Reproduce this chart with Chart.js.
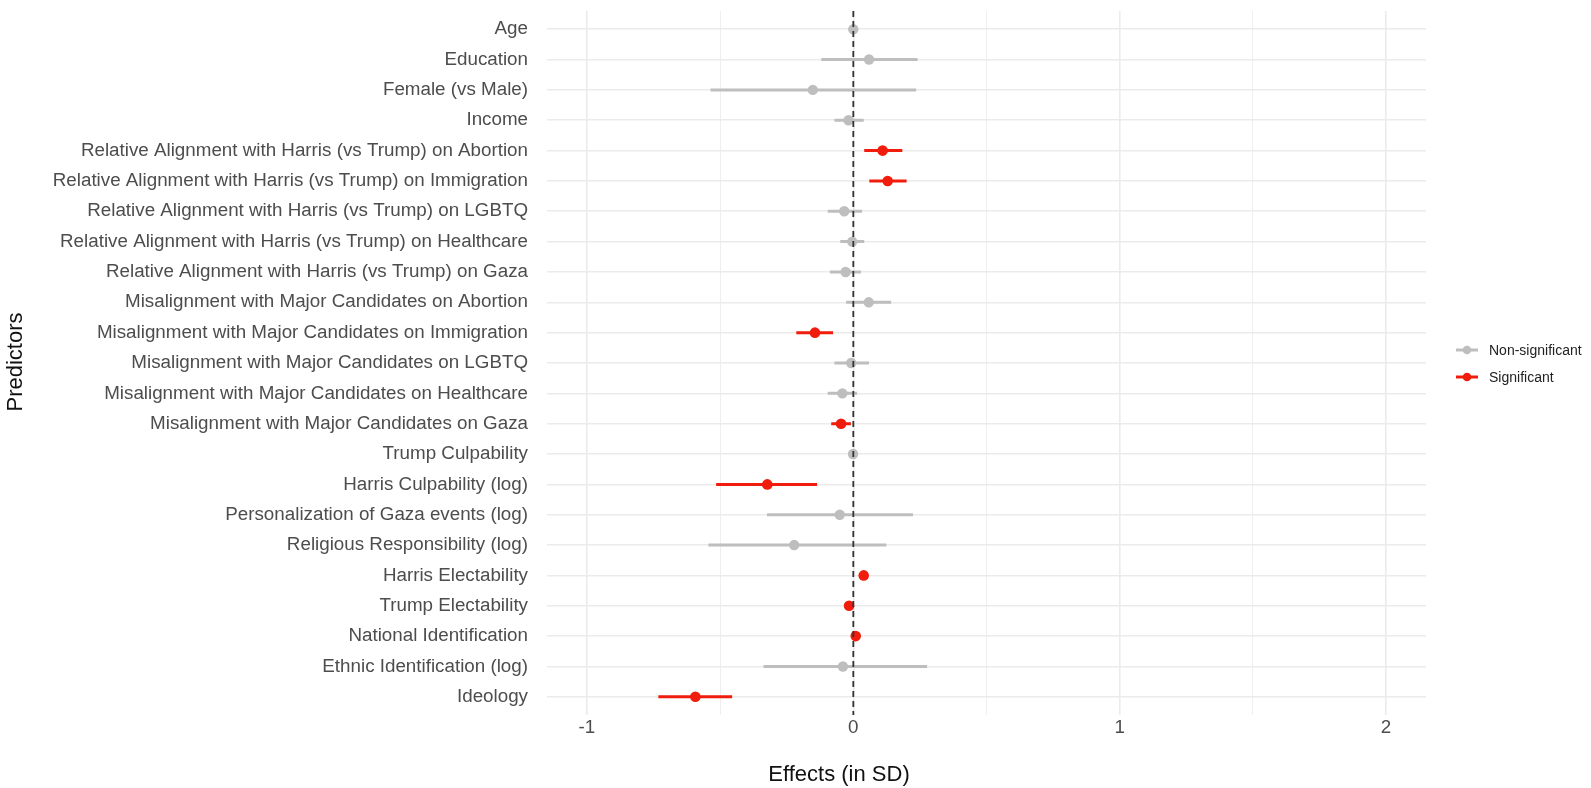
<!DOCTYPE html>
<html>
<head>
<meta charset="utf-8">
<script src="https://cdn.jsdelivr.net/npm/chart.js@4"></script>
<style>
  body { margin: 0; background: #fff; }
  #wrap { width: 1591px; height: 788px; position: relative; }
</style>
</head>
<body>
<div id="wrap"><canvas id="effectsChart"></canvas></div>
<script>
// Predictors, top to bottom
const predictors = [
  "Age",
  "Education",
  "Female (vs Male)",
  "Income",
  "Relative Alignment with Harris (vs Trump) on Abortion",
  "Relative Alignment with Harris (vs Trump) on Immigration",
  "Relative Alignment with Harris (vs Trump) on LGBTQ",
  "Relative Alignment with Harris (vs Trump) on Healthcare",
  "Relative Alignment with Harris (vs Trump) on Gaza",
  "Misalignment with Major Candidates on Abortion",
  "Misalignment with Major Candidates on Immigration",
  "Misalignment with Major Candidates on LGBTQ",
  "Misalignment with Major Candidates on Healthcare",
  "Misalignment with Major Candidates on Gaza",
  "Trump Culpability",
  "Harris Culpability (log)",
  "Personalization of Gaza events (log)",
  "Religious Responsibility (log)",
  "Harris Electability",
  "Trump Electability",
  "National Identification",
  "Ethnic Identification (log)",
  "Ideology"
];

// Effects (in SD) with confidence limits
const estimates = [0.000, 0.059, -0.152, -0.018, 0.110, 0.129, -0.034, -0.004, -0.029, 0.058, -0.144, -0.008, -0.041, -0.046, -0.001, -0.323, -0.051, -0.222, 0.039, -0.016, 0.009, -0.039, -0.593];
const lower = [-0.010, -0.120, -0.536, -0.071, 0.041, 0.060, -0.096, -0.049, -0.088, -0.027, -0.214, -0.071, -0.096, -0.083, -0.010, -0.515, -0.324, -0.544, 0.031, -0.024, 0.001, -0.337, -0.732];
const upper = [0.010, 0.241, 0.236, 0.039, 0.184, 0.200, 0.033, 0.041, 0.029, 0.142, -0.076, 0.059, 0.014, -0.009, 0.008, -0.136, 0.224, 0.124, 0.047, -0.008, 0.017, 0.277, -0.455];
const significant = [false, false, false, false, true, true, false, false, false, false, true, false, false, true, false, true, false, false, true, true, true, false, true];

// x axis ticks (major labelled, minor unlabelled)
const xTicks = [-1, -0.5, 0, 0.5, 1, 1.5, 2];
const xMin = -1.15, xMax = 2.15;
const refLine = 0;

const greyCol = "#bebebe";
const redCol = "#f01c0c";
const textFont = '"Liberation Sans", Arial, Helvetica, sans-serif';

function pointsFor(sig) {
  return estimates.map((v, i) => ({ x: v, y: i })).filter((p, i) => significant[i] === sig);
}
function barsFor(sig) {
  const out = [];
  predictors.forEach((_, i) => {
    if (significant[i] !== sig) return;
    out.push({ x: lower[i], y: i }, { x: upper[i], y: i }, { x: null, y: null });
  });
  return out;
}

// ggplot-style legend and axis titles
const extras = {
  id: "extras",
  afterDraw(chart) {
    const c = chart.ctx;
    c.save();
    c.fillStyle = "#111";
    c.font = "22px " + textFont;
    c.textAlign = "center";
    c.textBaseline = "middle";
    c.fillText("Effects (in SD)", 839, 775);
    c.translate(16, 362);
    c.rotate(-Math.PI / 2);
    c.fillText("Predictors", 0, 0);
    c.restore();

    const items = [["Non-significant", greyCol], ["Significant", redCol]];
    c.save();
    items.forEach((it, k) => {
      const y = 350 + k * 27;
      c.strokeStyle = it[1];
      c.lineWidth = 3;
      c.beginPath();
      c.moveTo(1456, y);
      c.lineTo(1478, y);
      c.stroke();
      c.fillStyle = it[1];
      c.beginPath();
      c.arc(1467, y, 4.3, 0, Math.PI * 2);
      c.fill();
      c.fillStyle = "#222";
      c.font = "14px " + textFont;
      c.textAlign = "left";
      c.textBaseline = "middle";
      c.fillText(it[0], 1489, y + 1);
    });
    c.restore();
  }
};

const ctx = document.getElementById("effectsChart").getContext("2d");
const effectsChart = new Chart(ctx, {
  type: "scatter",
  data: {
    datasets: [
      {
        label: "zero",
        data: [{ x: refLine, y: -0.6 }, { x: refLine, y: predictors.length - 0.4 }],
        showLine: true,
        borderColor: "#333",
        borderWidth: 1.8,
        borderDash: [6, 4],
        pointRadius: 0,
        order: 0
      },
      {
        label: "Significant",
        data: pointsFor(true),
        backgroundColor: redCol,
        borderWidth: 0,
        pointRadius: 5.3,
        order: 1
      },
      {
        label: "Non-significant",
        data: pointsFor(false),
        backgroundColor: greyCol,
        borderWidth: 0,
        pointRadius: 5.2,
        order: 2
      },
      {
        label: "ci-sig",
        data: barsFor(true),
        showLine: true,
        spanGaps: false,
        borderColor: redCol,
        borderWidth: 3,
        pointRadius: 0,
        order: 3
      },
      {
        label: "ci-nonsig",
        data: barsFor(false),
        showLine: true,
        spanGaps: false,
        borderColor: greyCol,
        borderWidth: 3,
        pointRadius: 0,
        order: 4
      }
    ]
  },
  options: {
    responsive: true,
    maintainAspectRatio: false,
    animation: false,
    events: [],
    layout: { padding: { top: 11, right: 165, left: 0, bottom: 0 } },
    plugins: {
      legend: { display: false },
      tooltip: { enabled: false }
    },
    scales: {
      x: {
        type: "linear",
        min: xMin,
        max: xMax,
        afterBuildTicks: (scale) => { scale.ticks = xTicks.map(v => ({ value: v })); },
        afterFit: (scale) => {
          scale.height = 73;
          scale.paddingLeft = 0;
          scale.paddingRight = 0;
        },
        border: { display: false },
        grid: {
          drawTicks: false,
          color: "#ebebeb",
          lineWidth: (c) => (c.tick && Number.isInteger(c.tick.value) ? 1.6 : 0.8)
        },
        ticks: {
          padding: 2,
          color: "#4d4d4d",
          font: { family: textFont, size: 18.8 },
          callback: (v) => (Number.isInteger(v) ? String(v) : "")
        }
      },
      y: {
        type: "linear",
        reverse: true,
        min: -0.6,
        max: predictors.length - 0.4,
        afterBuildTicks: (scale) => { scale.ticks = predictors.map((_, i) => ({ value: i })); },
        afterFit: (scale) => {
          scale.width = 547;
          scale.paddingTop = 0;
          scale.paddingBottom = 0;
        },
        border: { display: false },
        grid: { drawTicks: false, color: "#ebebeb", lineWidth: 1.6 },
        ticks: {
          padding: 19,
          color: "#4d4d4d",
          font: { family: textFont, size: 18.8 },
          callback: (v) => predictors[v]
        }
      }
    }
  },
  plugins: [extras]
});
</script>
</body>
</html>
